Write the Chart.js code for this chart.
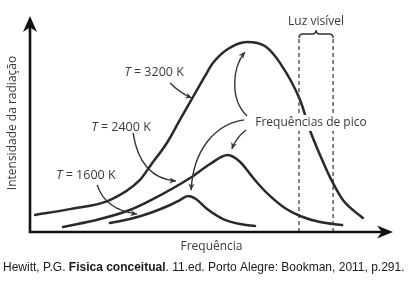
<!DOCTYPE html>
<html>
<head>
<meta charset="utf-8">
<script src="https://cdn.jsdelivr.net/npm/chart.js@4/dist/chart.umd.min.js"></script>
<style>
html,body{margin:0;padding:0;background:#fff;}
#wrap{position:relative;width:420px;height:289px;}
</style>
</head>
<body>
<div id="wrap"><canvas id="c" width="420" height="289"></canvas></div>
<script>
// ---- Data (arbitrary units: frequency 0-100, intensity 0-100) ----
const freq3200 = [1.4, 11.0, 22.0, 30.3, 33.1, 37.7, 41.3, 44.9, 48.2, 50.4, 54.5, 59.8, 64.7, 68.9, 74.4, 77.1, 79.9, 82.6, 86.2, 91.7];
const int3200  = [7.9, 10.6, 14.8, 24.1, 30.6, 41.2, 51.9, 62.5, 72.2, 78.2, 84.7, 88.0, 86.1, 78.2, 61.1, 47.2, 35.6, 25.5, 14.8, 6.5];
const freq2400 = [9.1, 19.3, 27.5, 34.4, 44.1, 49.6, 54.5, 57.9, 60.6, 63.4, 66.1, 70.2, 74.4, 79.9, 86.0];
const int2400  = [2.3, 6.0, 10.2, 15.7, 25.0, 31.5, 35.6, 32.4, 26.9, 21.3, 16.7, 11.1, 7.4, 4.6, 3.2];
const freq1600 = [22.0, 27.5, 33.1, 38.6, 41.3, 43.5, 45.7, 48.8, 53.2, 57.9, 62.0];
const int1600  = [4.2, 6.0, 8.8, 12.5, 14.8, 16.7, 15.3, 10.6, 6.0, 3.7, 2.8];
const visibleBand = [74.1, 83.5];   // frequency range of visible light
const visibleTop = 90.7;

const xTitle = "Frequência";
const yTitle = "Intensidade da radiação";
const bandLabel = "Luz visível";
const peakLabel = "Frequências de pico";
const tempLabels = [
  {t: "3200 K", x: 34.2, y: 74.1},
  {t: "2400 K", x: 25.1, y: 48.6},
  {t: "1600 K", x: 15.4, y: 26.4}
];
const peakLabelPos = {x: 77.4, y: 50.5};
const bandLabelPos = {x: 78.8, y: 97.2};
// annotation arrows (data coordinates): quadratic [start, ctrl, end] or cubic [start, c1, c2, end]
const arrows = [
  [[38.6,69.0],[41.3,64.4],[44.6,62.0]],
  [[28.4,45.8],[30.3,25.0],[40.2,23.6]],
  [[18.5,21.8],[20.7,10.2],[29.5,8.3]],
  [[59.8,53.7],[55.1,61.1],[55.6,75.9],[59.2,83.3]],
  [[59.5,47.2],[56.7,43.5],[55.6,38.4]],
  [[59.0,51.9],[51.0,50.0],[44.9,38.0],[44.4,19.4]]
];
const captionParts = [
  {t: "Hewitt, P.G. ", b: false},
  {t: "Fisica conceitual", b: true},
  {t: ". 11.ed. Porto Alegre: Bookman, 2011, p.291.", b: false}
];

const pts = (xs, ys) => xs.map((x, i) => ({x, y: ys[i]}));
const LINE = '#2a2a2a';
const TXT = '#3a3a3a';
const FONT = '"Open Sans", "Noto Sans", sans-serif';

function arrowHead(ctx, tipX, tipY, fromX, fromY, len, half) {
  const a = Math.atan2(tipY - fromY, tipX - fromX);
  ctx.save();
  ctx.translate(tipX, tipY);
  ctx.rotate(a);
  ctx.beginPath();
  ctx.moveTo(0, 0);
  ctx.lineTo(-len, -half);
  ctx.lineTo(-len * 0.7, 0);
  ctx.lineTo(-len, half);
  ctx.closePath();
  ctx.fill();
  ctx.restore();
}

const decor = {
  id: 'decor',
  afterDatasetsDraw(chart) {
    const ctx = chart.ctx, xs = chart.scales.x, ys = chart.scales.y, ca = chart.chartArea;
    const px = v => xs.getPixelForValue(v), py = v => ys.getPixelForValue(v);
    ctx.save();
    // visible band dashed lines + brace
    ctx.strokeStyle = '#333';
    ctx.lineWidth = 1.2;
    ctx.setLineDash([4, 3]);
    const topY = py(visibleTop);
    visibleBand.forEach(v => {
      ctx.beginPath();
      ctx.moveTo(px(v), topY + 3);
      ctx.lineTo(px(v), ca.bottom);
      ctx.stroke();
    });
    ctx.setLineDash([]);
    const bl = px(visibleBand[0]), br = px(visibleBand[1]), bm = (bl + br) / 2, by = topY - 2;
    ctx.lineWidth = 1.5;
    ctx.strokeStyle = '#333';
    ctx.beginPath();
    ctx.moveTo(bl, by + 4);
    ctx.quadraticCurveTo(bl, by, bl + 4, by);
    ctx.lineTo(bm - 4, by);
    ctx.quadraticCurveTo(bm, by, bm, by - 4);
    ctx.quadraticCurveTo(bm, by, bm + 4, by);
    ctx.lineTo(br - 4, by);
    ctx.quadraticCurveTo(br, by, br, by + 4);
    ctx.stroke();

    // peak label background (interrupts curve and dashed lines)
    ctx.font = '12px ' + FONT;
    const plw = ctx.measureText(peakLabel).width;
    ctx.fillStyle = '#fff';
    ctx.fillRect(px(peakLabelPos.x) - plw / 2 - 3, py(peakLabelPos.y) - 8, plw + 6, 16);

    // axes
    ctx.strokeStyle = '#111';
    ctx.fillStyle = '#111';
    ctx.lineWidth = 2.6;
    ctx.beginPath();
    ctx.moveTo(ca.left, ca.top + 8);
    ctx.lineTo(ca.left, ca.bottom);
    ctx.lineTo(ca.right - 8, ca.bottom);
    ctx.stroke();
    arrowHead(ctx, ca.left, ca.top, ca.left, ca.top + 20, 16, 7);
    arrowHead(ctx, ca.right, ca.bottom, ca.right - 20, ca.bottom, 16, 6.5);

    // annotation arrows
    ctx.strokeStyle = '#333';
    ctx.fillStyle = '#333';
    ctx.lineWidth = 1.4;
    arrows.forEach(a => {
      const p = a.map(q => [px(q[0]), py(q[1])]);
      ctx.beginPath();
      ctx.moveTo(p[0][0], p[0][1]);
      if (p.length === 3) ctx.quadraticCurveTo(p[1][0], p[1][1], p[2][0], p[2][1]);
      else ctx.bezierCurveTo(p[1][0], p[1][1], p[2][0], p[2][1], p[3][0], p[3][1]);
      ctx.stroke();
      const e = p[p.length - 1], c = p[p.length - 2];
      arrowHead(ctx, e[0], e[1], c[0], c[1], 6.5, 3);
    });

    // labels
    ctx.fillStyle = TXT;
    ctx.textBaseline = 'middle';
    ctx.textAlign = 'center';
    ctx.font = '12px ' + FONT;
    ctx.fillText(bandLabel, px(bandLabelPos.x), py(bandLabelPos.y));
    ctx.fillText(peakLabel, px(peakLabelPos.x), py(peakLabelPos.y));
    tempLabels.forEach(l => {
      const italic = 'italic 12.5px ' + FONT, normal = '12.5px ' + FONT;
      ctx.font = italic; const wT = ctx.measureText('T').width;
      ctx.font = normal; const rest = ' = ' + l.t; const wR = ctx.measureText(rest).width;
      const x0 = px(l.x) - (wT + wR) / 2, y0 = py(l.y);
      ctx.textAlign = 'left';
      ctx.font = italic; ctx.fillText('T', x0, y0);
      ctx.font = normal; ctx.fillText(rest, x0 + wT, y0);
      ctx.textAlign = 'center';
    });
    // axis titles
    ctx.font = '12px ' + FONT;
    ctx.fillText(xTitle, (ca.left + ca.right) / 2, ca.bottom + 15);
    ctx.save();
    ctx.translate(ca.left - 17, (ca.top + ca.bottom) / 2 - 1);
    ctx.rotate(-Math.PI / 2);
    ctx.font = '12px ' + FONT;
    ctx.fillText(yTitle, 0, 0);
    ctx.restore();

    // caption
    ctx.textAlign = 'left';
    ctx.textBaseline = 'alphabetic';
    ctx.fillStyle = '#1a1a1a';
    let cx = 3;
    captionParts.forEach(part => {
      ctx.font = (part.b ? 'bold ' : '') + '12px "Liberation Sans", Arial, sans-serif';
      ctx.fillText(part.t, cx, 271);
      cx += ctx.measureText(part.t).width;
    });
    ctx.restore();
  }
};

const ds = (data) => ({
  data,
  borderColor: LINE,
  borderWidth: 2.5,
  pointRadius: 0,
  fill: false,
  cubicInterpolationMode: 'monotone',
  borderCapStyle: 'round'
});

new Chart(document.getElementById('c'), {
  type: 'line',
  data: {
    datasets: [
      ds(pts(freq3200, int3200)),
      ds(pts(freq2400, int2400)),
      ds(pts(freq1600, int1600))
    ]
  },
  options: {
    responsive: false,
    devicePixelRatio: 1,
    animation: false,
    layout: {padding: {left: 30, top: 16, right: 27, bottom: 57}},
    plugins: {legend: {display: false}, tooltip: {enabled: false}},
    scales: {
      x: {type: 'linear', min: 0, max: 100, display: false},
      y: {type: 'linear', min: 0, max: 100, display: false}
    }
  },
  plugins: [decor]
});
</script>
</body>
</html>
